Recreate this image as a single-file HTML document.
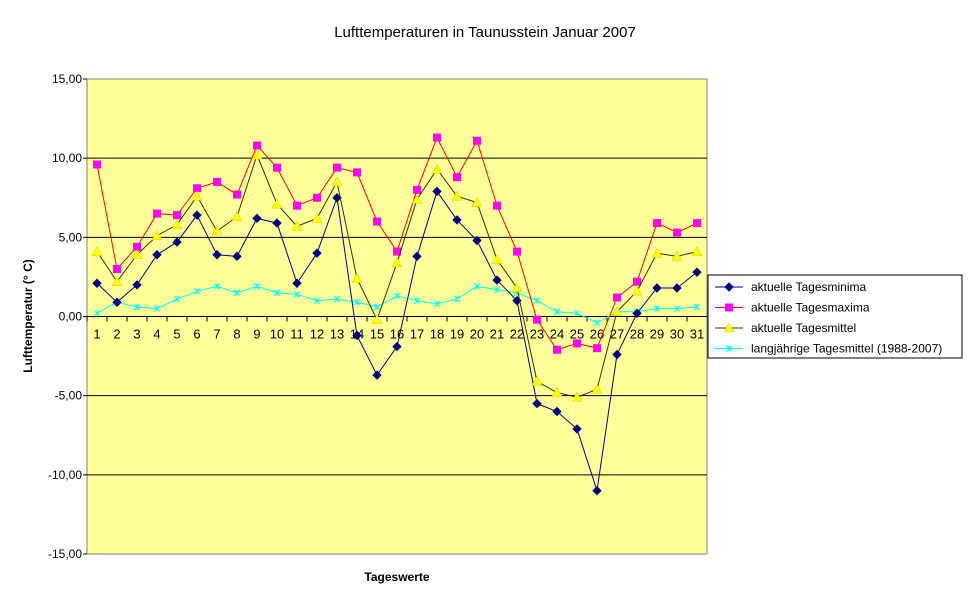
<!DOCTYPE html>
<html><head><meta charset="utf-8"><style>
body{margin:0;background:#fff;font-family:"Liberation Sans",Arial,sans-serif}
svg text{font-family:"Liberation Sans",Arial,sans-serif}
</style></head><body>
<svg id="c" width="970" height="604" xmlns="http://www.w3.org/2000/svg">
<text x="485" y="37" text-anchor="middle" font-size="15">Lufttemperaturen in Taunusstein  Januar  2007</text>
<rect x="87" y="79" width="620" height="475" fill="#FFFF99" stroke="#808080"/>
<g id="grid"></g><g id="series"></g>
<text transform="translate(32,316) rotate(-90)" text-anchor="middle" font-size="12" font-weight="bold">Lufttemperatur (° C)</text>
<text x="397" y="581" text-anchor="middle" font-size="12" font-weight="bold">Tageswerte</text>
<g>
<rect x="708" y="275" width="254" height="83" fill="#fff" stroke="#000"/>
<g id="legend"></g>
</g>
</svg>
<script>
const days=[1,2,3,4,5,6,7,8,9,10,11,12,13,14,15,16,17,18,19,20,21,22,23,24,25,26,27,28,29,30,31];
const yTicks=[15,10,5,0,-5,-10,-15];
const tMin=[2.1,0.9,2.0,3.9,4.7,6.4,3.9,3.8,6.2,5.9,2.1,4.0,7.5,-1.2,-3.7,-1.9,3.8,7.9,6.1,4.8,2.3,1.0,-5.5,-6.0,-7.1,-11.0,-2.4,0.2,1.8,1.8,2.8];
const tMax=[9.6,3.0,4.4,6.5,6.4,8.1,8.5,7.7,10.8,9.4,7.0,7.5,9.4,9.1,6.0,4.1,8.0,11.3,8.8,11.1,7.0,4.1,-0.2,-2.1,-1.7,-2.0,1.2,2.2,5.9,5.3,5.9];
const tMean=[4.1,2.2,3.9,5.1,5.8,7.6,5.4,6.3,10.2,7.1,5.7,6.2,8.5,2.4,-0.2,3.4,7.4,9.3,7.6,7.2,3.6,1.8,-4.1,-4.8,-5.1,-4.6,0.3,1.6,4.0,3.8,4.1];
const tLong=[0.2,0.9,0.6,0.5,1.1,1.6,1.9,1.5,1.9,1.5,1.4,1.0,1.1,0.9,0.6,1.3,1.0,0.8,1.1,1.9,1.7,1.5,1.0,0.3,0.2,-0.4,0.3,0.3,0.5,0.5,0.6];
const seriesNames=["aktuelle Tagesminima","aktuelle Tagesmaxima","aktuelle Tagesmittel","langjährige Tagesmittel (1988-2007)"];
const NS="http://www.w3.org/2000/svg";
const X0=87,W=620,Y0=79,H=475,YMIN=-15,YMAX=15;
const x=i=>X0+(i+0.5)*W/days.length;
const y=v=>Y0+(YMAX-v)/(YMAX-YMIN)*H;
function mk(t,a,p){const e=document.createElementNS(NS,t);for(const k in a)e.setAttribute(k,a[k]);p.appendChild(e);return e;}
const grid=document.getElementById('grid');
yTicks.forEach(v=>{
  if(v!==15&&v!==-15){const l=mk('line',{x1:X0,x2:X0+W,y1:y(v),y2:y(v),stroke:'#000'},grid);
  
  }
  const t=mk('text',{x:X0-5,y:y(v)+4,'text-anchor':'end','font-size':12},grid);
  
  
  t.textContent=v.toFixed(2).replace('.',',');
  mk('line',{x1:X0-4,x2:X0,y1:y(v),y2:y(v),stroke:'#000'},grid);
});
days.forEach((d,i)=>{
  const xe=X0+i*W/days.length;
  mk('line',{x1:xe,x2:xe,y1:y(0),y2:y(0)+5,stroke:'#000'},grid);
  const t=mk('text',{x:x(i),y:y(0)+22,'text-anchor':'middle','font-size':13},grid);
  
  
  t.textContent=d;
});
const sg=document.getElementById('series');
function marker(type,cx,cy,p){
  if(type==='d')return mk('polygon',{points:`${cx},${cy-4} ${cx+4},${cy} ${cx},${cy+4} ${cx-4},${cy}`,fill:'#000080',stroke:'#000080'},p);
  if(type==='s')return mk('rect',{x:cx-4,y:cy-4,width:8,height:8,fill:'#FF00FF'},p);
  if(type==='t')return mk('polygon',{points:`${cx},${cy-5} ${cx+5},${cy+4} ${cx-5},${cy+4}`,fill:'#FFFF00',stroke:'#CCCC00','stroke-width':0.5},p);
  const g=mk('g',{stroke:'#00FFFF','stroke-width':1},p);
  mk('line',{x1:cx-3,y1:cy-3,x2:cx+3,y2:cy+3},g);mk('line',{x1:cx-3,y1:cy+3,x2:cx+3,y2:cy-3},g);mk('line',{x1:cx,y1:cy-3,x2:cx,y2:cy+3},g);return g;
}
const defs=[[tLong,'#00FFFF','x','series-longterm-mean'],[tMin,'#000080','d','series-daily-min'],[tMax,'#FF0000','s','series-daily-max'],[tMean,'#333300','t','series-daily-mean']];
defs.forEach(([vals,col,m,name])=>{
  const g=mk('g',{},sg);
  
  
  mk('polyline',{points:vals.map((v,i)=>x(i)+','+y(v)).join(' '),fill:'none',stroke:col,'stroke-width':1},g);
  vals.forEach((v,i)=>{const mm=marker(m,x(i),y(v),g);
    
    });
});
const lg=document.getElementById('legend');
const lmeta=[['#000080','d'],['#FF0000','s'],['#333300','t'],['#00FFFF','x']];
seriesNames.forEach((n,i)=>{
  const cy=287+i*20.5;
  const g=mk('g',{},lg);
  
  
  mk('line',{x1:715,x2:743,y1:cy,y2:cy,stroke:lmeta[i][0]},g);
  marker(lmeta[i][1],729,cy,g);
  const t=mk('text',{x:751,y:cy+4,'font-size':12},g);
  t.textContent=n;
});
</script>
</body></html>
